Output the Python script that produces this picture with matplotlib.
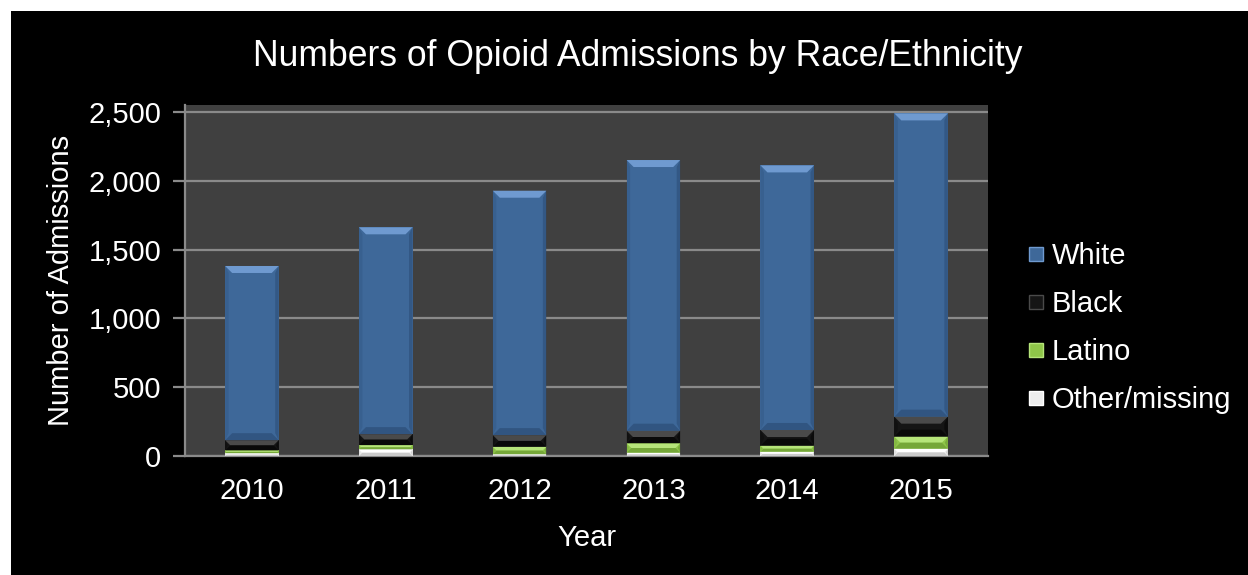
import matplotlib
matplotlib.use('Agg')
import matplotlib.pyplot as plt
from matplotlib.patches import Polygon, Rectangle
from matplotlib.lines import Line2D
import numpy as np

plt.rcParams['font.family'] = ['Liberation Sans', 'DejaVu Sans']

years = ['2010', '2011', '2012', '2013', '2014', '2015']
other = [20, 48, 12, 24, 31, 53]
latino = [20, 31, 55, 68, 44, 88]
black = [75, 80, 85, 92, 114, 145]
white = [1266, 1503, 1776, 1967, 1923, 2204]

# stacked from the bottom up: (label, values, face, light bevel, dark bevel)
series = [
    ('Other/missing', other, '#ededed', '#ffffff', '#bdbdbd'),
    ('Latino', latino, '#8fc649', '#b6e57a', '#6a9a32'),
    ('Black', black, '#151515', '#4a4a4a', '#050505'),
    ('White', white, '#3e6899', '#6f9ad0', '#2c4e78'),
]

fig = plt.figure(figsize=(12.48, 5.75), dpi=100, facecolor='white')
# black card behind everything, white strip on top and left
fig.patches.append(Rectangle((11 / 1248, 0), 1, 1 - 11 / 575, transform=fig.transFigure,
                             facecolor='black', edgecolor='none', zorder=-10))

ax = fig.add_axes([185 / 1248, 1 - 456 / 575, 803 / 1248, 351 / 575])
ax.set_facecolor('#404040')
ax.set_xlim(-0.5, 5.5)
ax.set_ylim(0, 2551)

x = np.arange(len(years))
width = 0.4
bottom = np.zeros(len(years))

# bevel depth in pixels, converted to data units
px_x = 7 * 6 / 803.0
px_y = 7 * 2551 / 351.0

for label, vals, face, light, dark in series:
    vals = np.array(vals, dtype=float)
    bars = ax.bar(x, vals, width, bottom=bottom, color=face, edgecolor='none', zorder=3)
    for b in bars:
        x0, y0 = b.get_x(), b.get_y()
        w, h = b.get_width(), b.get_height()
        dy = min(px_y, h / 2.0)
        dx = px_x * dy / px_y
        x1, y1 = x0 + w, y0 + h
        # top highlight
        ax.add_patch(Polygon([(x0, y1), (x1, y1), (x1 - dx, y1 - dy), (x0 + dx, y1 - dy)],
                             closed=True, facecolor=light, edgecolor='none', zorder=4))
        # bottom shade
        ax.add_patch(Polygon([(x0, y0), (x1, y0), (x1 - dx, y0 + dy), (x0 + dx, y0 + dy)],
                             closed=True, facecolor=dark, edgecolor='none', alpha=0.7, zorder=4))
        # side shading, a little darker on the right
        ax.add_patch(Polygon([(x0, y0), (x0 + dx / 2, y0 + dy), (x0 + dx / 2, y1 - dy), (x0, y1)],
                             closed=True, facecolor=dark, edgecolor='none', alpha=0.3, zorder=4))
        ax.add_patch(Polygon([(x1, y0), (x1 - dx / 2, y0 + dy), (x1 - dx / 2, y1 - dy), (x1, y1)],
                             closed=True, facecolor=dark, edgecolor='none', alpha=0.6, zorder=4))
    bottom += vals

ax.set_yticks(np.arange(0, 2501, 500))
ax.set_yticklabels([f'{v:,}' for v in range(0, 2501, 500)])
ax.yaxis.grid(True, color='#8a8a8a', linewidth=1.6, zorder=1)
ax.set_axisbelow(True)
ax.set_xticks(x)
ax.set_xticklabels(years)

for side in ['top', 'right']:
    ax.spines[side].set_visible(False)
for side in ['left', 'bottom']:
    ax.spines[side].set_color('#8a8a8a')
    ax.spines[side].set_linewidth(1.6)

ax.tick_params(axis='y', colors='#8a8a8a', labelcolor='white', labelsize=21,
               length=9, width=1.6, pad=8)
ax.tick_params(axis='x', length=0, labelcolor='white', labelsize=21, pad=15)

ax.set_xlabel('Year', color='white', fontsize=21, labelpad=14)
ax.set_ylabel('Number of Admissions', color='white', fontsize=21, labelpad=10)

fig.text(638 / 1248, 1 - 57 / 575, 'Numbers of Opioid Admissions by Race/Ethnicity',
         color='white', fontsize=25.6, ha='center', va='center')

handles = []
labels = []
for label, vals, face, light, dark in reversed(series):
    handles.append(Line2D([], [], linestyle='none', marker='s', markersize=10,
                          markerfacecolor=face, markeredgecolor=light, markeredgewidth=1))
    labels.append(label)
leg = fig.legend(handles, labels, loc='center left', bbox_to_anchor=(1002 / 1248, 1 - 328 / 575),
                 frameon=False, fontsize=21, labelcolor='white', handlelength=0.55,
                 handletextpad=0.25, labelspacing=0.69)

fig.savefig('out.png', dpi=100, facecolor=fig.get_facecolor())
